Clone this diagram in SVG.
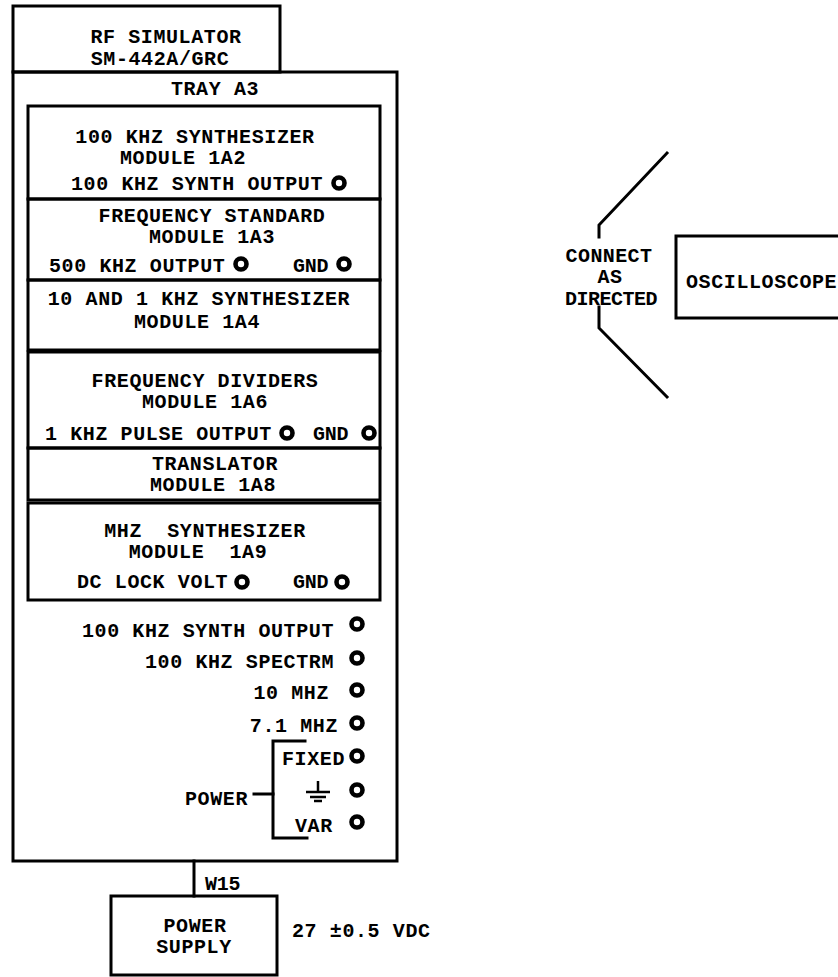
<svg xmlns="http://www.w3.org/2000/svg" width="838" height="977" viewBox="0 0 838 977">
<style>
.bx{fill:none;stroke:#000;stroke-width:3}
.ln{fill:none;stroke:#000;stroke-width:3;stroke-linecap:square}
.jk{fill:none;stroke:#000;stroke-width:4.6}
text{font-family:"Liberation Mono","Courier New",monospace;font-weight:bold;font-size:20px;letter-spacing:0.6px;fill:#000}
.m{text-anchor:middle}
.e{text-anchor:end}
.g{letter-spacing:-0.3px}
</style>
<rect width="838" height="977" fill="#fff"/>
<g id="rf-simulator">
<rect class="bx" x="13" y="6" width="267" height="66"/>
<text class="m" x="166" y="43">RF SIMULATOR</text>
<text class="m" x="160" y="65">SM-442A/GRC</text>
</g>
<g id="tray-a3">
<rect class="bx" x="13" y="72" width="384" height="789"/>
<text class="m" x="215" y="95">TRAY A3</text>
</g>
<g id="module-1a2">
<rect class="bx" x="28" y="106" width="352" height="93"/>
<text class="m" x="195" y="143">100 KHZ SYNTHESIZER</text>
<text class="m" x="183" y="164">MODULE 1A2</text>
<text x="71" y="190">100 KHZ SYNTH OUTPUT</text>
<circle class="jk" cx="339" cy="183" r="5.5"/>
</g>
<g id="module-1a3">
<rect class="bx" x="28" y="199" width="352" height="81"/>
<text class="m" x="212" y="222">FREQUENCY STANDARD</text>
<text class="m" x="212" y="243">MODULE 1A3</text>
<text x="49" y="272">500 KHZ OUTPUT</text>
<circle class="jk" cx="241" cy="264" r="5.5"/>
<text class="g" x="293" y="272">GND</text>
<circle class="jk" cx="344" cy="264" r="5.5"/>
</g>
<g id="module-1a4">
<rect class="bx" x="28" y="280" width="352" height="70"/>
<text class="m" x="199" y="305">10 AND 1 KHZ SYNTHESIZER</text>
<text class="m" x="197" y="328">MODULE 1A4</text>
</g>
<g id="module-1a6">
<rect class="bx" x="28" y="352" width="352" height="96"/>
<text class="m" x="205" y="387">FREQUENCY DIVIDERS</text>
<text class="m" x="205" y="408">MODULE 1A6</text>
<text x="45" y="440">1 KHZ PULSE OUTPUT</text>
<circle class="jk" cx="287" cy="433" r="5.5"/>
<text class="g" x="313" y="440">GND</text>
<circle class="jk" cx="369" cy="433" r="5.5"/>
</g>
<g id="module-1a8">
<rect class="bx" x="28" y="448" width="352" height="52"/>
<text class="m" x="215" y="470">TRANSLATOR</text>
<text class="m" x="213" y="491">MODULE 1A8</text>
</g>
<g id="module-1a9">
<rect class="bx" x="28" y="503" width="352" height="97"/>
<text class="m" x="205" y="537">MHZ&#160; SYNTHESIZER</text>
<text class="m" x="198" y="558">MODULE&#160; 1A9</text>
<text x="77" y="588">DC LOCK VOLT</text>
<circle class="jk" cx="242" cy="582" r="5.5"/>
<text class="g" x="293" y="588">GND</text>
<circle class="jk" cx="342" cy="582" r="5.5"/>
</g>
<g id="tray-jacks">
<text class="e" x="334" y="637">100 KHZ SYNTH OUTPUT</text>
<circle class="jk" cx="357" cy="624" r="5.5"/>
<text class="e" x="334" y="668">100 KHZ SPECTRM</text>
<circle class="jk" cx="357" cy="658" r="5.5"/>
<text class="e" x="329" y="699">10 MHZ</text>
<circle class="jk" cx="357" cy="690" r="5.5"/>
<text class="e" x="338" y="732">7.1 MHZ</text>
<circle class="jk" cx="357" cy="723" r="5.5"/>
<text x="282" y="765">FIXED</text>
<circle class="jk" cx="357" cy="756" r="5.5"/>
<g id="ground-symbol" stroke="#000" stroke-width="2.5">
<line x1="318" y1="781" x2="318" y2="792"/>
<line x1="306" y1="792" x2="330" y2="792"/>
<line x1="310" y1="797" x2="326" y2="797"/>
<line x1="314" y1="801" x2="322" y2="801"/>
</g>
<circle class="jk" cx="357" cy="790" r="5.5"/>
<text x="295" y="832">VAR</text>
<circle class="jk" cx="357" cy="822" r="5.5"/>
<text x="185" y="805">POWER</text>
</g>
<g id="oscilloscope">
<rect class="bx" x="676" y="236" width="170" height="82"/>
<text x="686" y="288">OSCILLOSCOPE</text>
</g>
<g id="connect-label">
<text class="m" x="609" y="262" style="letter-spacing:0.4px">CONNECT</text>
<text class="m" x="610" y="283">AS</text>
<text class="m" x="611" y="305" style="letter-spacing:-0.5px">DIRECTED</text>
</g>
<g id="power-supply">
<rect class="bx" x="111" y="896" width="166" height="79"/>
<text class="m" x="195" y="932">POWER</text>
<text class="m" x="194" y="953">SUPPLY</text>
<text x="292" y="937">27 ±0.5 VDC</text>
</g>
<g id="connectors">
<line class="ln" x1="194" y1="861" x2="194" y2="896"/>
<text class="g" x="205" y="890">W15</text>
<polyline class="ln" points="305,741 273,741 273,838 307,838"/>
<line class="ln" x1="254" y1="794" x2="273" y2="794"/>
<polyline class="ln" points="667,153 599,225 599,237"/>
<polyline class="ln" points="599,307 599,328 667,397"/>
</g>
</svg>
